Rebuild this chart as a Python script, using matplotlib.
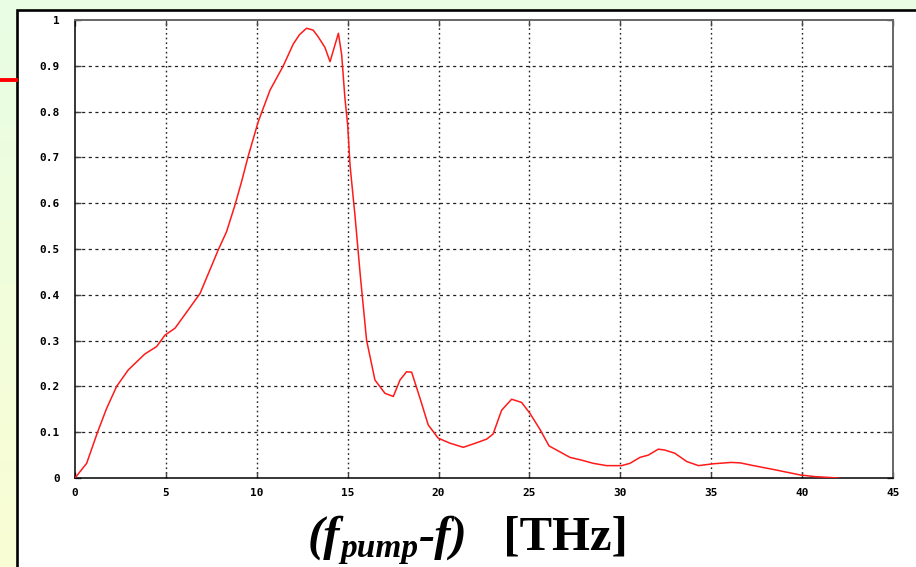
import numpy as np
import matplotlib
matplotlib.use("Agg")
import matplotlib.pyplot as plt
from matplotlib.patches import Rectangle
from matplotlib.lines import Line2D

# Normalised gain spectrum versus frequency offset from the pump
freq_thz = [0.0, 0.64, 1.25, 1.74, 2.29, 2.93, 3.85, 4.49, 4.95, 5.5, 6.23, 6.88,
            7.88, 8.34, 8.8, 9.17, 9.53, 10.08, 10.73, 11.46, 12.0, 12.35, 12.74,
            13.1, 13.4, 13.75, 14.03, 14.49, 14.67, 14.85, 15.0, 15.13, 15.31, 15.4,
            15.7, 16.04, 16.5, 17.05, 17.51, 17.88, 18.24, 18.52, 18.98, 19.43,
            19.98, 20.63, 21.36, 22.1, 22.65, 23.0, 23.47, 24.02, 24.57, 25.03,
            25.58, 26.08, 26.68, 27.23, 27.87, 28.51, 29.25, 30.07, 30.53, 31.08,
            31.54, 32.09, 32.45, 33.0, 33.65, 34.3, 35.1, 36.1, 36.6, 37.2, 38.5,
            39.9, 40.7, 42.0]
gain = [0.0, 0.032, 0.101, 0.152, 0.2, 0.236, 0.271, 0.287, 0.312, 0.327, 0.367, 0.403,
        0.498, 0.538, 0.596, 0.648, 0.703, 0.778, 0.847, 0.9, 0.947, 0.968, 0.982,
        0.978, 0.962, 0.94, 0.909, 0.971, 0.924, 0.829, 0.771, 0.683, 0.61, 0.574,
        0.44, 0.301, 0.214, 0.185, 0.178, 0.214, 0.232, 0.231, 0.174, 0.116,
        0.087, 0.076, 0.067, 0.077, 0.085, 0.096, 0.148, 0.172, 0.165, 0.141,
        0.106, 0.07, 0.057, 0.045, 0.039, 0.032, 0.027, 0.027, 0.032, 0.045,
        0.05, 0.063, 0.061, 0.054, 0.036, 0.027, 0.031, 0.034, 0.033, 0.028,
        0.018, 0.0066, 0.003, 0.0]

x_ticks = [0, 5, 10, 15, 20, 25, 30, 35, 40, 45]
y_ticks = [0, 0.1, 0.2, 0.3, 0.4, 0.5, 0.6, 0.7, 0.8, 0.9, 1.0]
y_tick_labels = ["0", "0.1", "0.2", "0.3", "0.4", "0.5", "0.6", "0.7", "0.8", "0.9", "1"]

W, H = 916, 567
fig = plt.figure(figsize=(W / 100, H / 100), dpi=100)

# slide background: soft green-to-yellow gradient
bg = fig.add_axes([0, 0, 1, 1], zorder=-10)
top = np.array([232, 253, 228]) / 255
bot = np.array([250, 254, 212]) / 255
t = np.linspace(0, 1, 256)[:, None]
grad = top[None, :] * (1 - t) + bot[None, :] * t
bg.imshow(grad[:, None, :], aspect="auto", extent=[0, 1, 0, 1])
bg.set_axis_off()

# white panel with heavy border
fig.patches.append(Rectangle((16.5 / W, -0.1), 1.2, 1.1 - 9.5 / H,
                             transform=fig.transFigure, facecolor="white",
                             edgecolor="black", linewidth=1.9, zorder=-5))
fig.lines.append(Line2D([0, 16 / W], [1 - 80 / H, 1 - 80 / H], transform=fig.transFigure,
                        color="#ff0000", linewidth=2.8, zorder=-4))

ax = fig.add_axes([75 / W, (H - 478) / H, 818 / W, 458 / H])
ax.set_facecolor("white")
ax.plot(freq_thz, gain, color="#ff1a1a", linewidth=1.1, zorder=3)

ax.set_xlim(0, 45)
ax.set_ylim(0, 1)
ax.set_xticks(x_ticks)
ax.set_xticklabels([str(v) for v in x_ticks])
ax.set_yticks(y_ticks)
ax.set_yticklabels(y_tick_labels)

for lab in ax.get_xticklabels() + ax.get_yticklabels():
    lab.set_fontfamily("DejaVu Sans Mono")
    lab.set_fontweight("bold")
    lab.set_fontsize(8)

ax.tick_params(axis="both", direction="in", length=4, width=1, color="#444444",
               top=True, right=True)
ax.tick_params(axis="x", pad=7)
ax.tick_params(axis="y", pad=11)

for s in ["left", "bottom"]:
    ax.spines[s].set_color("black")
    ax.spines[s].set_linewidth(1.1)
for s in ["top", "right"]:
    ax.spines[s].set_color("#666666")
    ax.spines[s].set_linewidth(1.4)

# gnuplot-style grid
for xv in x_ticks[1:-1]:
    ax.axvline(xv, color="#222222", linewidth=1.0, linestyle=(0, (1.2, 2.2)), zorder=1)
for yv in y_ticks[1:-1]:
    ax.axhline(yv, color="#222222", linewidth=0.9, linestyle=(0, (2.5, 2.8)), zorder=1)

# axis title composed of pieces so the subscript sits correctly
fig.canvas.draw()
renderer = fig.canvas.get_renderer()
pieces = [
    ("(f", 35, "italic", "bold", 0),
    ("pump", 24, "italic", "bold", -7),
    ("-f)", 35, "italic", "bold", 0),
    ("   [THz]", 35, "normal", "bold", 0),
]
x_px = 308
base_px = H - 550
for text, size, style, weight, dy in pieces:
    tx = fig.text(x_px / W, (base_px + dy) / H, text, fontsize=size, fontstyle=style,
                  fontweight=weight, family="Liberation Serif", va="baseline",
                  ha="left", color="black")
    bb = tx.get_window_extent(renderer)
    x_px = bb.x1

fig.savefig("out.png", dpi=100)
